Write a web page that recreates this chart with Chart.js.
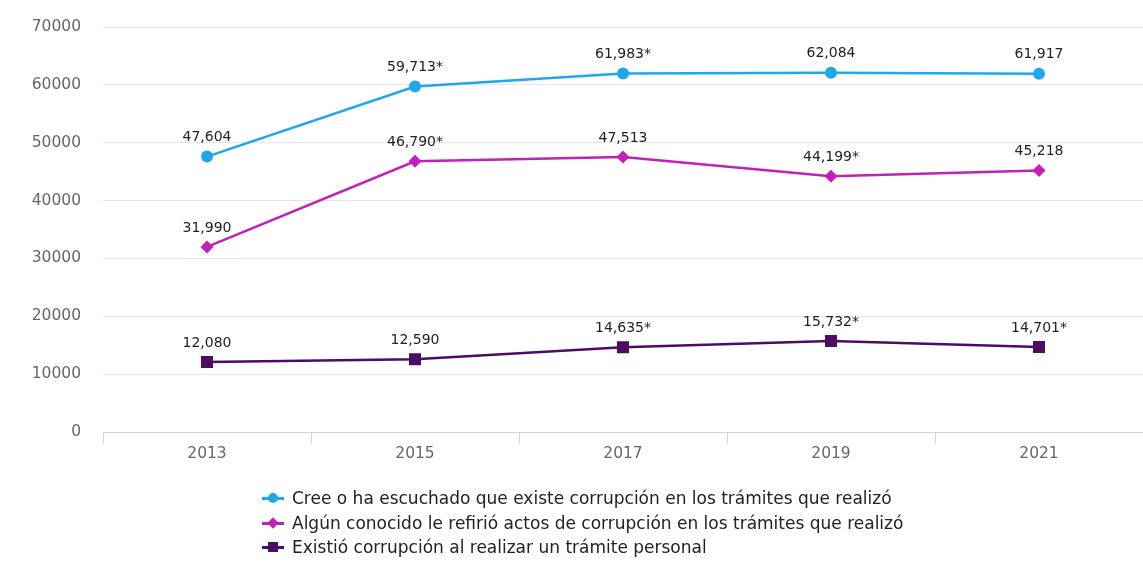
<!DOCTYPE html>
<html>
<head>
<meta charset="utf-8">
<script src="https://cdn.jsdelivr.net/npm/chart.js@4"></script>
<style>
  html, body { margin: 0; padding: 0; background: #fff; overflow: hidden; }
  #wrap { position: relative; width: 1143px; height: 565px; }
  #legend { position: absolute; left: 262px; top: 486px; font-family: 'DejaVu Sans', sans-serif; font-size: 17px; color: #222; }
  .item { display: flex; align-items: center; height: 24.5px; }
  .mk { position: relative; width: 22px; height: 12px; margin-right: 8px; }
  .mk .ln { position: absolute; left: 0; right: 0; top: 5px; height: 3px; }
  .mk .pt { position: absolute; left: 6px; top: 1px; width: 10px; height: 10px; }
</style>
</head>
<body>
<div id="wrap">
  <canvas id="chart" width="1143" height="565"></canvas>
  <div id="legend"></div>
</div>
<script>
// ── Data ─────────────────────────────────────────────────────────
const years = ['2013', '2015', '2017', '2019', '2021'];
const creeValues = [47604, 59713, 61983, 62084, 61917];
const conocidoValues = [31990, 46790, 47513, 44199, 45218];
const existioValues = [12080, 12590, 14635, 15732, 14701];
// significance marks (*) next to the value labels
const creeMarks = [false, true, true, false, false];
const conocidoMarks = [false, true, false, true, false];
const existioMarks = [false, false, true, true, true];
const yTicks = [0, 10000, 20000, 30000, 40000, 50000, 60000, 70000];

const COLORS = {
  cree: '#1ea8ea',
  conocido: '#c41fb6',
  existio: '#4e0b62',
};

// value labels above each point
const valueLabels = {
  id: 'valueLabels',
  afterDatasetsDraw(chart) {
    const ctx = chart.ctx;
    ctx.save();
    ctx.font = "14px 'DejaVu Sans', sans-serif";
    ctx.fillStyle = '#222';
    ctx.textAlign = 'center';
    ctx.textBaseline = 'middle';
    chart.data.datasets.forEach((ds, i) => {
      chart.getDatasetMeta(i).data.forEach((pt, j) => {
        const txt = ds.data[j].toLocaleString('en-US') + (ds.marks[j] ? '*' : '');
        ctx.fillText(txt, pt.x, pt.y - 19);
      });
    });
    ctx.restore();
  }
};

const chart = new Chart(document.getElementById('chart'), {
  type: 'line',
  data: {
    labels: years,
    datasets: [
      {
        label: 'Cree o ha escuchado que existe corrupción en los trámites que realizó',
        data: creeValues,
        marks: creeMarks,
        shape: 'circle',
        borderColor: COLORS.cree,
        backgroundColor: COLORS.cree,
        pointStyle: 'circle',
        pointRadius: 6,
      },
      {
        label: 'Algún conocido le refirió actos de corrupción en los trámites que realizó',
        data: conocidoValues,
        marks: conocidoMarks,
        shape: 'diamond',
        borderColor: COLORS.conocido,
        backgroundColor: COLORS.conocido,
        pointStyle: 'rectRot',
        pointRadius: 6.5,
      },
      {
        label: 'Existió corrupción al realizar un trámite personal',
        data: existioValues,
        marks: existioMarks,
        shape: 'square',
        borderColor: COLORS.existio,
        backgroundColor: COLORS.existio,
        pointStyle: 'rect',
        pointRadius: 8.5,
      },
    ].map(d => Object.assign({ borderWidth: 2.5, tension: 0, pointBorderWidth: 0 }, d))
  },
  options: {
    responsive: false,
    animation: false,
    layout: { autoPadding: false, padding: { top: 27, right: 0, left: 0, bottom: 0 } },
    plugins: {
      legend: { display: false },
      tooltip: { enabled: false },
    },
    scales: {
      x: {
        offset: true,
        grid: { offset: true, drawOnChartArea: false, drawTicks: true, tickLength: 12, color: '#ccd6eb' },
        border: { color: '#ccd6eb' },
        ticks: { color: '#666', padding: 1, font: { family: "'DejaVu Sans', sans-serif", size: 15.5 } },
        afterFit: (s) => { s.height = 133; s.paddingLeft = 0; s.paddingRight = 0; },
      },
      y: {
        min: 0,
        max: 70000,
        afterBuildTicks: (s) => { s.ticks = yTicks.map(v => ({ value: v })); },
        grid: { color: '#e6e6e6', drawTicks: false },
        border: { display: false },
        ticks: { color: '#666', padding: 22, font: { family: "'DejaVu Sans', sans-serif", size: 15.5 }, callback: (v) => String(v) },
        afterFit: (s) => { s.width = 103; s.paddingTop = 0; s.paddingBottom = 0; },
      },
    },
  },
  plugins: [valueLabels],
});

// ── HTML legend ──────────────────────────────────────────────────
const legendEl = document.getElementById('legend');
chart.data.datasets.forEach(ds => {
  const item = document.createElement('div');
  item.className = 'item';
  let ptStyle = `background:${ds.borderColor};`;
  if (ds.shape === 'circle') ptStyle += 'border-radius:50%;';
  if (ds.shape === 'diamond') ptStyle += 'transform:scale(0.8) rotate(45deg);';
  item.innerHTML = `<span class="mk"><span class="ln" style="background:${ds.borderColor}"></span>` +
    `<span class="pt" style="${ptStyle}"></span></span><span>${ds.label}</span>`;
  legendEl.appendChild(item);
});
</script>
</body>
</html>
